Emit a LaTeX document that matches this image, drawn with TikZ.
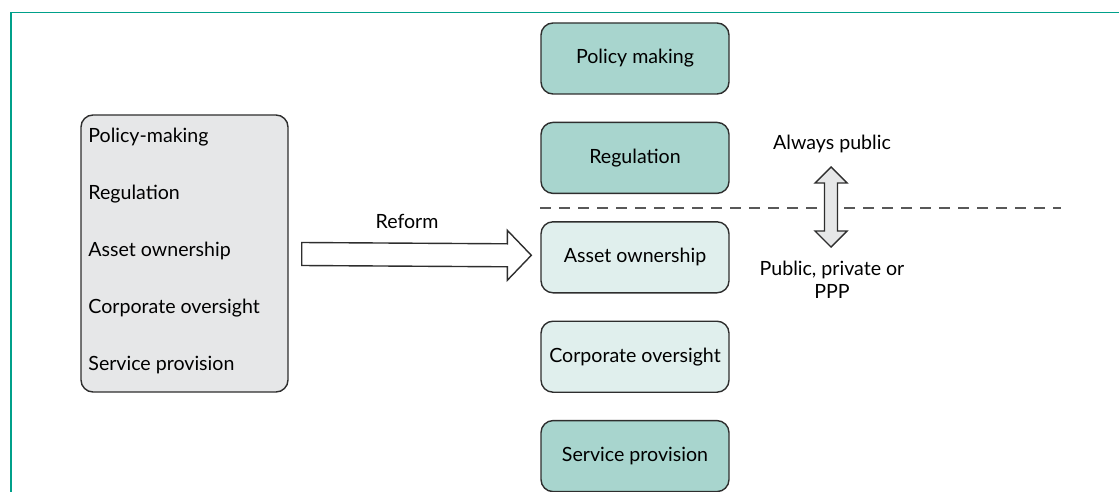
\documentclass[tikz,border=0pt]{standalone}
\usepackage{fontspec}
\setmainfont{Lato}
\usepackage{xcolor}
\usetikzlibrary{positioning, calc}

\definecolor{frameteal}{HTML}{00A08A}
\definecolor{darkfill}{HTML}{A8D5CE}
\definecolor{lightfill}{HTML}{E0EFED}
\definecolor{greyfill}{HTML}{E6E7E8}
\definecolor{edge}{HTML}{2E2E2E}

\begin{document}
\begin{tikzpicture}[x=0.5pt, y=-0.5pt, font=\fontsize{9.8}{11.5}\selectfont,
  role/.style={draw=edge, line width=0.7pt, rounded corners=6pt, minimum width=94pt, minimum height=35.5pt, inner sep=0pt},
  fatarrow/.style={draw=edge, line width=0.7pt, line join=miter},
  cutline/.style={draw=edge!80, line width=0.9pt, dash pattern=on 5.5pt off 4pt},
  node distance=13.5pt]
\useasboundingbox (0,0) rectangle (1119,492);
\draw [frameteal, line width=0.8pt] (11,492) -- (11,12.5) -- (1119,12.5);

% before reform
\node [role, fill=greyfill, minimum width=103.5pt, minimum height=138.5pt] (old) at (184.5,253.5) {};
\foreach \t [count=\i] in {Policy-making, Regulation, Asset ownership, Corporate oversight, Service provision}
  \node [anchor=west, inner sep=0pt] (old\i) at (88, 80+57*\i) {\t};

% after reform
\node [role, fill=darkfill] (policy) at (635,58.5) {Policy making};
\node [role, fill=darkfill, below=of policy] (regulation) {Regulation};
\node [role, fill=lightfill, below=of regulation] (asset) {Asset ownership};
\node [role, fill=lightfill, below=of asset] (oversight) {Corporate oversight};
\node [role, fill=darkfill, below=of oversight] (service) {Service provision};

% reform arrow
\coordinate (tail) at ($(old.east)+(13,0.5)$);
\coordinate (tip) at ($(asset.west)+(-9,-2)$);
\draw [fatarrow, fill=white] ($(tail)+(0,-11.5)$) -- ($(tip)+(-24,-11.5)$) -- ($(tip)+(-24,-25)$) -- (tip)
  -- ($(tip)+(-24,25)$) -- ($(tip)+(-24,11.5)$) -- ($(tail)+(0,11.5)$) -- cycle;
\node (reform) at (407,221.5) {Reform};

% public / private split
\coordinate (cut) at ($(regulation.south west)!0.5!(asset.north west)$);
\draw [cutline] (cut) -- ++(521,0);
\coordinate (swap) at (831,207);
\draw [fatarrow, fill=greyfill] (swap) ++(0,-40) -- ++(16,16) -- ++(-9.5,0) -- ++(0,48) -- ++(9.5,0) -- ++(-16,16)
  -- ++(-16,-16) -- ++(9.5,0) -- ++(0,-48) -- ++(-9.5,0) -- cycle;
\node (public) at (832,144) {Always public};
\node [align=center] (mixed) at (832,280) {Public, private or\\PPP};
\end{tikzpicture}
\end{document}
